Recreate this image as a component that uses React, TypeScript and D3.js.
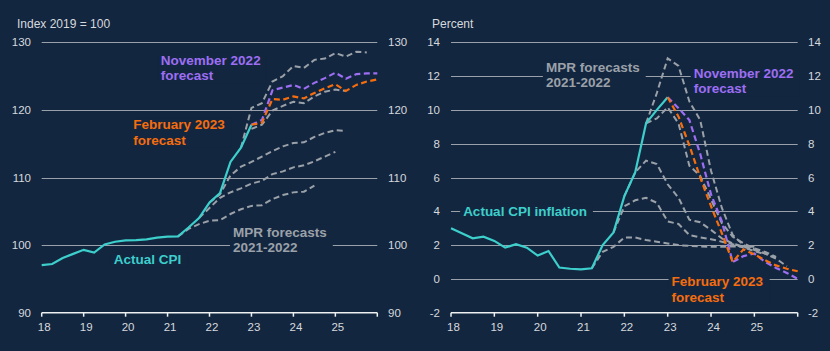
import { useRef, useEffect } from "react"
import * as d3 from "d3"

const WIDTH = 830
const HEIGHT = 351
const BG = "#13263f"
const GRID = "#9aa1aa"
const AXIS = "#eef0f2"
const TICK_TEXT = "#d6d9de"
const TEAL = "#3dcfcc"
const PURPLE = "#9d6ef3"
const ORANGE = "#f56d0e"
const GREY = "#9ba1a9"
const FONT = "'Liberation Sans', Arial, sans-serif"

// quarterly series, `from` is the decimal year of the first point
type Series = { from: number; values: number[] }
const Q = 0.25

const yearTicks = [2018, 2019, 2020, 2021, 2022, 2023, 2024, 2025, 2026]
const yearLabels = ["18", "19", "20", "21", "22", "23", "24", "25"]

// ---- left panel: CPI level, index 2019 = 100
const cpiActual: Series = {
  from: 2018,
  values: [97.05, 97.2, 98.1, 98.7, 99.3, 98.9, 100.1, 100.5, 100.7, 100.75, 100.85, 101.1, 101.25, 101.3, 102.6, 104.0, 106.3, 107.7, 112.3, 114.4, 117.8],
}
const cpiNov22: Series = {
  from: 2023,
  values: [117.8, 118.5, 122.9, 123.3, 123.7, 123.1, 124.0, 124.7, 125.5, 124.6, 125.3, 125.4, 125.4],
}
const cpiFeb23: Series = {
  from: 2023,
  values: [117.8, 118.1, 121.6, 121.5, 122.0, 121.7, 122.5, 123.2, 123.8, 122.8, 123.7, 124.2, 124.5],
}
const cpiMpr: Series[] = [
  { from: 2021.25, values: [101.3, 102.4, 103.1, 103.6, 103.7, 104.6, 105.3, 105.8, 105.9, 106.8, 107.4, 107.8, 107.9, 108.8] },
  { from: 2021.75, values: [104.0, 105.5, 107.0, 107.8, 108.4, 109.1, 109.5, 110.5, 110.9, 111.5, 111.8, 112.4, 113.1, 113.8] },
  { from: 2022, values: [106.3, 107.5, 110.3, 111.6, 112.3, 113.1, 113.9, 114.6, 115.1, 115.2, 116.0, 116.6, 117.0, 116.9] },
  { from: 2023, values: [117.2, 117.8, 119.9, 120.6, 121.2, 121.0, 122.0, 122.7, 123.0, 122.8] },
  { from: 2022.75, values: [114.4, 120.3, 121.0, 124.2, 125.0, 126.5, 126.2, 127.4, 127.6, 128.4, 127.9, 128.6, 128.5] },
]
const leftGrid = [100, 110, 120, 130]
const leftTicks = [90, 100, 110, 120, 130]

// ---- right panel: CPI inflation, percent
const inflActual: Series = {
  from: 2018,
  values: [3.0, 2.7, 2.4, 2.5, 2.25, 1.85, 2.05, 1.85, 1.38, 1.65, 0.67, 0.6, 0.56, 0.63, 2.0, 2.75, 4.9, 6.3, 9.2, 10.0, 10.75],
}
const inflNov22: Series = {
  from: 2023,
  values: [10.75, 10.1, 9.4, 7.4, 5.0, 3.4, 1.0, 1.35, 1.5, 1.0, 0.65, 0.35, 0.0],
}
const inflFeb23: Series = {
  from: 2023,
  values: [10.75, 9.6, 7.9, 6.0, 4.3, 2.7, 1.0, 1.75, 1.45, 1.1, 0.8, 0.6, 0.45],
}
const inflMpr: Series[] = [
  { from: 2021.25, values: [0.63, 1.6, 1.9, 2.45, 2.45, 2.3, 2.2, 2.1, 2.0, 1.95, 1.92, 1.9, 1.9, 1.92, 1.92, 1.9] },
  { from: 2021.75, values: [2.75, 4.3, 4.65, 4.8, 4.5, 3.4, 3.25, 2.6, 2.45, 2.35, 2.2, 2.05, 1.85, 1.65, 1.45] },
  { from: 2022, values: [4.9, 6.3, 7.0, 6.8, 5.6, 4.8, 3.5, 3.35, 2.9, 2.4, 2.1, 1.9, 1.7, 1.5, 1.25] },
  { from: 2022.5, values: [9.2, 9.5, 10.15, 9.2, 6.7, 6.1, 4.7, 3.3, 2.5, 2.1, 1.8, 1.6, 1.3] },
  { from: 2022.5, values: [9.2, 11.0, 13.05, 12.6, 10.5, 9.4, 6.4, 4.2, 2.6, 2.0, 1.75, 1.5, 1.2, 0.75] },
]
const rightGrid = [0, 2, 4, 6, 8, 10, 12, 14]
const rightTicks = [-2, 0, 2, 4, 6, 8, 10, 12, 14]

interface Note {
  lines: string[]
  t: number
  v: number
  color: string
}

const leftNotes: Note[] = [
  { lines: ["November 2022", "forecast"], t: 2020.84, v: 127.4, color: PURPLE },
  { lines: ["February 2023", "forecast"], t: 2020.18, v: 117.9, color: ORANGE },
  { lines: ["Actual CPI"], t: 2019.72, v: 97.9, color: TEAL },
  { lines: ["MPR forecasts", "2021-2022"], t: 2022.56, v: 102.0, color: GREY },
]
const rightNotes: Note[] = [
  { lines: ["MPR forecasts", "2021-2022"], t: 2020.19, v: 12.54, color: GREY },
  { lines: ["November 2022", "forecast"], t: 2023.6, v: 12.2, color: PURPLE },
  { lines: ["Actual CPI inflation"], t: 2018.28, v: 4.04, color: TEAL },
  { lines: ["February 2023", "forecast"], t: 2023.09, v: -0.14, color: ORANGE },
]

interface PanelSpec {
  x0: number
  x1: number
  yDomain: [number, number]
  grid: number[]
  ticks: number[]
  leftLabelX: number
  rightLabelX: number
  unit: string
  unitX: number
  actual: Series
  nov: Series
  feb: Series
  mpr: Series[]
  notes: Note[]
}

const TOP = 42.3
const BOTTOM = 312.7

function drawPanel(root: d3.Selection<SVGGElement, unknown, null, undefined>, p: PanelSpec) {
  const x = d3.scaleLinear().domain([2018, 2026]).range([p.x0, p.x1])
  const y = d3.scaleLinear().domain(p.yDomain).range([BOTTOM, TOP])
  const g = root.append("g")

  g.append("text")
    .attr("x", p.unitX)
    .attr("y", 28)
    .attr("fill", TICK_TEXT)
    .attr("font-size", 12)
    .attr("font-family", FONT)
    .text(p.unit)

  // gridlines
  g.selectAll(".grid")
    .data(p.grid)
    .join("line")
    .attr("x1", p.x0)
    .attr("x2", p.x1)
    .attr("y1", (d) => Math.round(y(d)) + 0.5)
    .attr("y2", (d) => Math.round(y(d)) + 0.5)
    .attr("stroke", GRID)
    .attr("stroke-width", 1)

  // value labels both sides
  const tickText = (xPos: number, anchor: string) =>
    g.append("g")
      .selectAll("text")
      .data(p.ticks)
      .join("text")
      .attr("x", xPos)
      .attr("y", (d) => y(d))
      .attr("dy", "0.36em")
      .attr("text-anchor", anchor)
      .attr("fill", TICK_TEXT)
      .attr("font-size", 11.5)
      .attr("font-family", FONT)
      .text((d) => d)
  tickText(p.leftLabelX, "end")
  tickText(p.rightLabelX, "start")

  // bottom axis
  g.append("line")
    .attr("x1", p.x0)
    .attr("x2", p.x1)
    .attr("y1", BOTTOM)
    .attr("y2", BOTTOM)
    .attr("stroke", AXIS)
    .attr("stroke-width", 1.5)
  g.selectAll(".tick")
    .data(yearTicks)
    .join("line")
    .attr("x1", (d) => x(d))
    .attr("x2", (d) => x(d))
    .attr("y1", BOTTOM)
    .attr("y2", BOTTOM + 4)
    .attr("stroke", AXIS)
    .attr("stroke-width", 1.5)
  g.selectAll(".year")
    .data(yearLabels)
    .join("text")
    .attr("x", (_, i) => x(yearTicks[i]) + 2.5)
    .attr("y", 331)
    .attr("text-anchor", "middle")
    .attr("fill", TICK_TEXT)
    .attr("font-size", 11.5)
    .attr("font-family", FONT)
    .text((d) => d)

  // notes: background box hides the gridline behind the text
  const noteLayer = g.append("g")
  p.notes.forEach((n) => {
    const ng = noteLayer.append("g")
    const bg = ng.append("rect").attr("fill", BG)
    const t = ng
      .append("text")
      .attr("fill", n.color)
      .attr("font-size", 13.5)
      .attr("font-weight", "bold")
      .attr("font-family", FONT)
    n.lines.forEach((line, i) => {
      t.append("tspan")
        .attr("x", x(n.t))
        .attr("y", y(n.v) + 5 + i * 15.5)
        .text(line)
    })
    const box = (t.node() as SVGTextElement).getBBox()
    bg.attr("x", box.x - 3)
      .attr("y", box.y)
      .attr("width", box.width + 9)
      .attr("height", box.height)
  })

  const line = d3
    .line<[number, number]>()
    .x((d) => x(d[0]))
    .y((d) => y(d[1]))
  const pts = (s: Series) => s.values.map((v, i) => [s.from + i * Q, v] as [number, number])

  const lines = g.insert("g", () => noteLayer.node())
  lines
    .selectAll(".mpr")
    .data(p.mpr)
    .join("path")
    .attr("d", (s) => line(pts(s)))
    .attr("fill", "none")
    .attr("stroke", GREY)
    .attr("stroke-width", 2)
    .attr("stroke-dasharray", "6,3.5")

  lines
    .append("path")
    .attr("d", line(pts(p.actual)))
    .attr("fill", "none")
    .attr("stroke", TEAL)
    .attr("stroke-width", 2.2)

  ;[
    [p.nov, PURPLE],
    [p.feb, ORANGE],
  ].forEach(([s, c]) => {
    lines
      .append("path")
      .attr("d", line(pts(s as Series)))
      .attr("fill", "none")
      .attr("stroke", c as string)
      .attr("stroke-width", 2.2)
      .attr("stroke-dasharray", "6,3.5")
  })
}

export default function App() {
  const svgRef = useRef<SVGSVGElement>(null)

  useEffect(() => {
    const svg = svgRef.current
    if (!svg) return
    d3.select(svg).selectAll("*").remove()
    const root = d3.select(svg).append("g")

    drawPanel(root, {
      x0: 41.7,
      x1: 377.3,
      yDomain: [90, 130],
      grid: leftGrid,
      ticks: leftTicks,
      leftLabelX: 31,
      rightLabelX: 388,
      unit: "Index 2019 = 100",
      unitX: 17,
      actual: cpiActual,
      nov: cpiNov22,
      feb: cpiFeb23,
      mpr: cpiMpr,
      notes: leftNotes,
    })
    drawPanel(root, {
      x0: 451,
      x1: 797.7,
      yDomain: [-2, 14],
      grid: rightGrid,
      ticks: rightTicks,
      leftLabelX: 440,
      rightLabelX: 808,
      unit: "Percent",
      unitX: 432,
      actual: inflActual,
      nov: inflNov22,
      feb: inflFeb23,
      mpr: inflMpr,
      notes: rightNotes,
    })
  }, [])

  return (
    <svg
      ref={svgRef}
      width={WIDTH}
      height={HEIGHT}
      style={{ position: "absolute", left: 0, top: 0, display: "block", background: BG }}
    />
  )
}
